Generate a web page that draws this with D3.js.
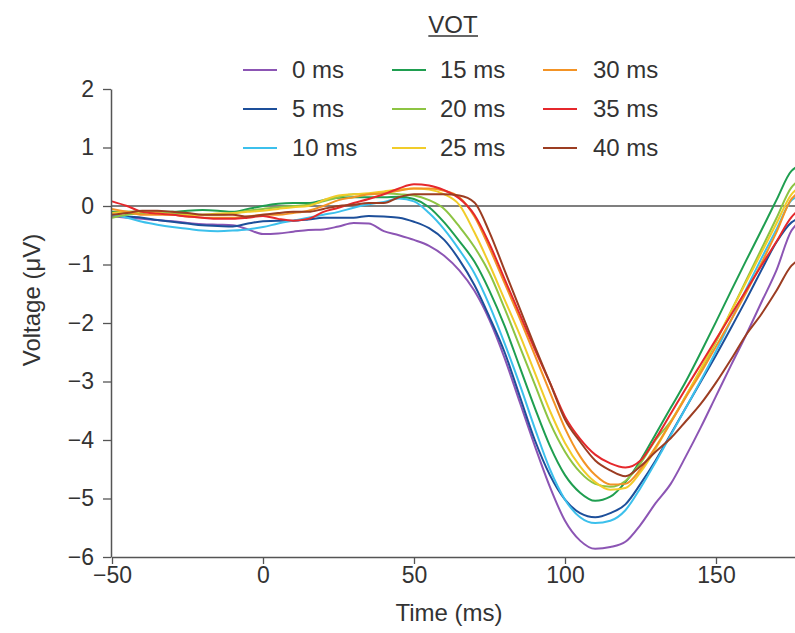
<!DOCTYPE html>
<html>
<head>
<meta charset="utf-8">
<script src="https://cdn.jsdelivr.net/npm/d3@7"></script>
<style>
  html, body { margin: 0; padding: 0; background: #fff; }
  svg { display: block; }
  text { font-family: "Liberation Sans", Arial, Helvetica, sans-serif; fill: #333; }
</style>
</head>
<body>
<svg id="chart" width="795" height="633"></svg>
<script>
// ---- data ----
const times = [-50,-45,-40,-35,-30,-25,-20,-15,-10,-5,0,5,10,15,20,25,30,35,40,45,50,55,60,65,70,75,80,85,90,95,100,105,110,115,120,125,130,135,140,145,150,155,160,165,170,175,176.5];

const vot0  = [-0.18,-0.2,-0.22,-0.24,-0.26,-0.29,-0.31,-0.32,-0.33,-0.4,-0.48,-0.47,-0.44,-0.41,-0.4,-0.35,-0.29,-0.3,-0.43,-0.5,-0.58,-0.68,-0.85,-1.1,-1.45,-1.95,-2.6,-3.35,-4.1,-4.8,-5.38,-5.72,-5.86,-5.83,-5.74,-5.45,-5.08,-4.75,-4.28,-3.78,-3.25,-2.72,-2.2,-1.65,-1.1,-0.42,-0.32];
const vot5  = [-0.15,-0.18,-0.2,-0.24,-0.27,-0.3,-0.33,-0.34,-0.35,-0.3,-0.26,-0.25,-0.25,-0.23,-0.2,-0.2,-0.2,-0.17,-0.18,-0.2,-0.27,-0.38,-0.58,-0.92,-1.35,-1.9,-2.5,-3.25,-4.0,-4.6,-5.02,-5.25,-5.32,-5.25,-5.1,-4.75,-4.35,-3.9,-3.45,-3.0,-2.55,-2.08,-1.6,-1.1,-0.62,-0.28,-0.23];
const vot10 = [-0.15,-0.2,-0.27,-0.32,-0.36,-0.39,-0.42,-0.43,-0.42,-0.4,-0.36,-0.3,-0.25,-0.2,-0.15,-0.1,-0.03,0.03,0.07,0.13,0.08,-0.12,-0.4,-0.75,-1.15,-1.7,-2.35,-3.05,-3.8,-4.5,-5.02,-5.32,-5.42,-5.38,-5.2,-4.82,-4.38,-3.92,-3.45,-2.98,-2.48,-1.95,-1.42,-0.9,-0.4,0.1,0.15];
const vot15 = [-0.1,-0.1,-0.1,-0.1,-0.1,-0.08,-0.07,-0.08,-0.1,-0.05,0.0,0.04,0.05,0.05,0.1,0.14,0.15,0.15,0.15,0.16,0.12,-0.02,-0.28,-0.6,-0.95,-1.45,-2.05,-2.75,-3.45,-4.1,-4.6,-4.9,-5.04,-4.97,-4.72,-4.35,-3.9,-3.45,-3.0,-2.5,-1.98,-1.45,-0.93,-0.42,0.1,0.6,0.66];
const vot20 = [-0.2,-0.15,-0.12,-0.1,-0.12,-0.14,-0.15,-0.15,-0.13,-0.08,-0.05,-0.02,0.0,0.02,0.08,0.15,0.2,0.2,0.22,0.2,0.18,0.1,-0.05,-0.35,-0.7,-1.15,-1.75,-2.4,-3.05,-3.7,-4.2,-4.55,-4.75,-4.8,-4.7,-4.4,-4.0,-3.68,-3.25,-2.8,-2.32,-1.8,-1.27,-0.74,-0.21,0.32,0.4];
const vot25 = [-0.12,-0.1,-0.1,-0.12,-0.15,-0.16,-0.15,-0.13,-0.12,-0.1,-0.08,-0.05,-0.02,0.0,0.1,0.18,0.2,0.22,0.25,0.28,0.3,0.28,0.2,0.02,-0.45,-1.0,-1.6,-2.2,-2.85,-3.5,-4.05,-4.45,-4.72,-4.85,-4.82,-4.55,-4.15,-3.7,-3.25,-2.78,-2.3,-1.8,-1.3,-0.8,-0.3,0.2,0.28];
const vot30 = [-0.05,-0.1,-0.15,-0.15,-0.15,-0.18,-0.2,-0.2,-0.2,-0.18,-0.15,-0.15,-0.12,-0.08,0.0,0.1,0.15,0.2,0.22,0.26,0.3,0.3,0.26,0.15,-0.18,-0.72,-1.32,-1.92,-2.55,-3.18,-3.8,-4.28,-4.6,-4.76,-4.75,-4.5,-4.12,-3.7,-3.27,-2.85,-2.4,-1.95,-1.48,-0.98,-0.45,0.12,0.2];
const vot35 = [0.08,0.0,-0.1,-0.13,-0.15,-0.18,-0.2,-0.22,-0.22,-0.2,-0.17,-0.22,-0.25,-0.22,-0.1,-0.03,0.05,0.12,0.2,0.3,0.37,0.35,0.27,0.13,-0.15,-0.65,-1.25,-1.85,-2.45,-3.02,-3.6,-3.98,-4.25,-4.4,-4.47,-4.35,-3.98,-3.55,-3.12,-2.7,-2.28,-1.86,-1.44,-1.02,-0.61,-0.19,-0.11];
const vot40 = [-0.15,-0.12,-0.08,-0.08,-0.1,-0.12,-0.15,-0.15,-0.15,-0.18,-0.15,-0.12,-0.1,-0.1,-0.05,0.0,0.02,0.05,0.05,0.15,0.2,0.2,0.2,0.18,0.06,-0.45,-1.1,-1.75,-2.4,-3.02,-3.65,-4.03,-4.35,-4.52,-4.62,-4.45,-4.2,-3.97,-3.68,-3.38,-3.02,-2.62,-2.2,-1.85,-1.45,-1.02,-0.95];

const seriesNames = ["0 ms","5 ms","10 ms","15 ms","20 ms","25 ms","30 ms","35 ms","40 ms"];
const seriesValues = [vot0, vot5, vot10, vot15, vot20, vot25, vot30, vot35, vot40];
const seriesColors = ["#8c55b4","#1d4f9a","#3cc0ec","#1f9e50","#8dc443","#f1cc2a","#f39325","#e5282c","#9c3d22"];

const xTicks = [-50, 0, 50, 100, 150];
const yTicks = [2, 1, 0, -1, -2, -3, -4, -5, -6];

// ---- layout ----
const svg = d3.select("#chart");
const plotLeft = 111, plotRight = 795, plotTop = 89, plotBottom = 557;

const x = d3.scaleLinear().domain([-50, 150]).range([112, 716]);
const xEnd = x.invert(plotRight);
x.domain([-50, xEnd]).range([112, plotRight]);
const y = d3.scaleLinear().domain([-6, 2]).range([plotBottom, plotTop]);

svg.append("defs").append("clipPath").attr("id", "plotclip")
  .append("rect").attr("x", plotLeft).attr("y", 0).attr("width", plotRight - plotLeft).attr("height", 633);

// zero line
svg.append("line")
  .attr("x1", plotLeft).attr("x2", plotRight)
  .attr("y1", y(0)).attr("y2", y(0))
  .attr("stroke", "#555").attr("stroke-width", 1.5);

// series lines
const line = d3.line()
  .x((d, i) => x(times[i]))
  .y(d => y(d))
  .curve(d3.curveMonotoneX);

const g = svg.append("g").attr("clip-path", "url(#plotclip)");
seriesValues.forEach((vals, k) => {
  g.append("path")
    .datum(vals)
    .attr("d", line)
    .attr("fill", "none")
    .attr("stroke", seriesColors[k])
    .attr("stroke-width", 2)
    .attr("stroke-linejoin", "round");
});

// axes
const xAxis = svg.append("g")
  .attr("transform", `translate(0,${plotBottom})`)
  .call(d3.axisBottom(x).tickValues(xTicks).tickSizeOuter(0).tickSizeInner(7).tickPadding(3));
const yAxis = svg.append("g")
  .attr("transform", `translate(${plotLeft},0)`)
  .call(d3.axisLeft(y).tickValues(yTicks).tickSizeOuter(0).tickSizeInner(8).tickPadding(9));

[xAxis, yAxis].forEach(a => {
  a.select(".domain").attr("stroke", "#555").attr("stroke-width", 1.5);
  a.selectAll(".tick line").attr("stroke", "#555").attr("stroke-width", 1.3);
  a.selectAll(".tick text")
    .attr("font-size", 23)
    .attr("font-family", "'Liberation Sans', Arial, sans-serif")
    .attr("fill", "#333");
});

// axis titles
svg.append("text")
  .attr("x", 449).attr("y", 621)
  .attr("text-anchor", "middle")
  .attr("font-size", 24)
  .text("Time (ms)");

svg.append("text")
  .attr("transform", "translate(40,300) rotate(-90)")
  .attr("text-anchor", "middle")
  .attr("font-size", 24)
  .text("Voltage (μV)");

// legend
const legTitle = svg.append("text")
  .attr("x", 453).attr("y", 33)
  .attr("text-anchor", "middle")
  .attr("font-size", 24)
  .text("VOT");
const bb = legTitle.node().getBBox();
svg.append("line")
  .attr("x1", bb.x).attr("x2", bb.x + bb.width)
  .attr("y1", 36).attr("y2", 36)
  .attr("stroke", "#333").attr("stroke-width", 1.5);

const colSwatchX = [243, 392, 543];
const colTextX = [292, 440, 593];
const rowY = [70, 109, 148];
seriesNames.forEach((name, k) => {
  const c = Math.floor(k / 3), r = k % 3;
  svg.append("line")
    .attr("x1", colSwatchX[c]).attr("x2", colSwatchX[c] + 34)
    .attr("y1", rowY[r]).attr("y2", rowY[r])
    .attr("stroke", seriesColors[k]).attr("stroke-width", 2);
  svg.append("text")
    .attr("x", colTextX[c]).attr("y", rowY[r])
    .attr("dy", "0.35em")
    .attr("font-size", 24)
    .text(name);
});
</script>
</body>
</html>
